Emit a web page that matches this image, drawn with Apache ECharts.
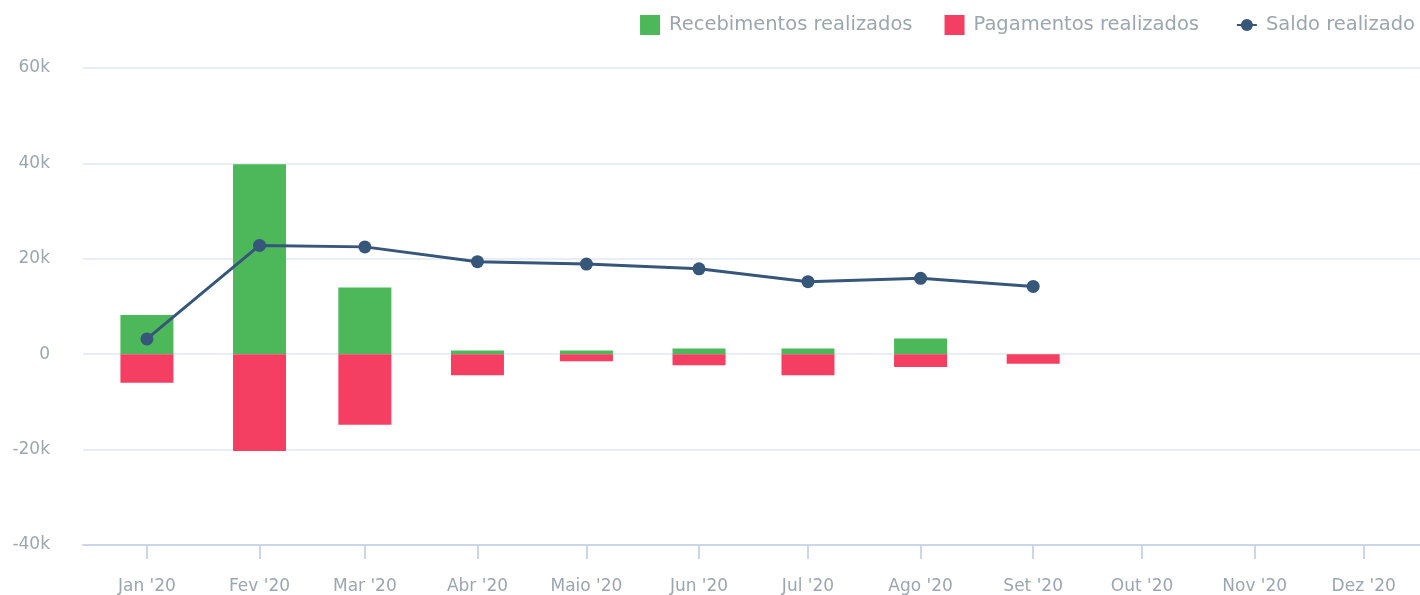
<!DOCTYPE html>
<html>
<head>
<meta charset="utf-8">
<script src="https://cdn.jsdelivr.net/npm/echarts@6/dist/echarts.min.js"></script>
<style>
  html, body { margin: 0; padding: 0; background: #fff; }
  #myChart { width: 1420px; height: 595px; }
</style>
</head>
<body>
<div id="myChart"></div>
<script>
// meses (primeiro dia de cada mês)
var months = ['2020-01-01', '2020-02-01', '2020-03-01', '2020-04-01', '2020-05-01', '2020-06-01',
              '2020-07-01', '2020-08-01', '2020-09-01'];
var monthNames = ['Jan', 'Fev', 'Mar', 'Abr', 'Maio', 'Jun', 'Jul', 'Ago', 'Set', 'Out', 'Nov', 'Dez'];
var recebimentos = [8200, 39800, 14000, 800, 800, 1200, 1200, 3300, 0];
var pagamentos = [-6000, -20300, -14800, -4400, -1500, -2300, -4400, -2700, -2000];
var saldo = [3200, 22800, 22500, 19400, 18900, 17900, 15200, 15900, 14200];

function pairs(vals) {
  return vals.map(function (v, i) { return [months[i], v]; });
}

var DAY = 86400000;
var barW = 53;
var gridLeft = 83;
var axisLen = 1420 - gridLeft;
// o eixo vai de meados de dez/2019 a meados de dez/2020
var wantMin = new Date(2020, 0, 1).getTime() - 17.6 * DAY;
var wantMax = new Date(2020, 11, 1).getTime() + 15.5 * DAY;
// echarts alarga o eixo de tempo para caber as barras; compensar
var span = wantMax - wantMin;
var shrink = span * (barW / axisLen) / 2;

var myChart = echarts.init(document.getElementById('myChart'));
var textColor = '#9ba6ae';
var legendText = { color: textColor, fontSize: 19.5, fontFamily: 'DejaVu Sans', padding: [0, 0, 0, 4] };
var option = {
  animation: false,
  textStyle: { fontFamily: 'DejaVu Sans' },
  legend: [{
    right: 216,
    top: 10,
    itemWidth: 20,
    itemHeight: 20,
    itemGap: 32,
    icon: 'rect',
    textStyle: legendText,
    data: ['Recebimentos realizados', 'Pagamentos realizados']
  }, {
    right: 0,
    top: 10,
    itemWidth: 20,
    itemHeight: 15,
    textStyle: legendText,
    data: ['Saldo realizado']
  }],
  grid: { left: gridLeft, right: 0, top: 68, bottom: 50 },
  xAxis: {
    type: 'time',
    min: wantMin + shrink,
    max: wantMax - shrink,
    minInterval: 28 * DAY,
    maxInterval: 31 * DAY,
    axisLine: { onZero: false, lineStyle: { color: '#cbd6e8', width: 2 } },
    axisTick: { show: true, length: 14, lineStyle: { color: '#cbd6e8', width: 2 } },
    minorTick: { show: false },
    splitLine: { show: false },
    axisLabel: {
      color: textColor,
      fontSize: 17,
      margin: 33,
      hideOverlap: false,
      formatter: function (val) {
        var d = new Date(val);
        return monthNames[d.getMonth()] + " '" + String(d.getFullYear()).slice(2);
      }
    }
  },
  yAxis: {
    type: 'value',
    min: -40000,
    max: 60000,
    interval: 20000,
    axisLine: { show: false },
    axisTick: { show: false },
    splitLine: { lineStyle: { color: '#e1e9f1', width: 1.5 } },
    axisLabel: {
      color: textColor,
      fontSize: 17,
      margin: 33,
      formatter: function (v) { return v === 0 ? '0' : (v / 1000) + 'k'; }
    }
  },
  series: [
    {
      name: 'Recebimentos realizados',
      type: 'bar',
      stack: 'total',
      barWidth: barW,
      itemStyle: { color: '#4cb85a' },
      data: pairs(recebimentos)
    },
    {
      name: 'Pagamentos realizados',
      type: 'bar',
      stack: 'total',
      barWidth: barW,
      itemStyle: { color: '#f43f62' },
      data: pairs(pagamentos)
    },
    {
      name: 'Saldo realizado',
      type: 'line',
      symbol: 'circle',
      symbolSize: 13,
      lineStyle: { color: '#36577a', width: 3 },
      itemStyle: { color: '#36577a' },
      data: pairs(saldo)
    }
  ]
};
myChart.setOption(option);
</script>
</body>
</html>
